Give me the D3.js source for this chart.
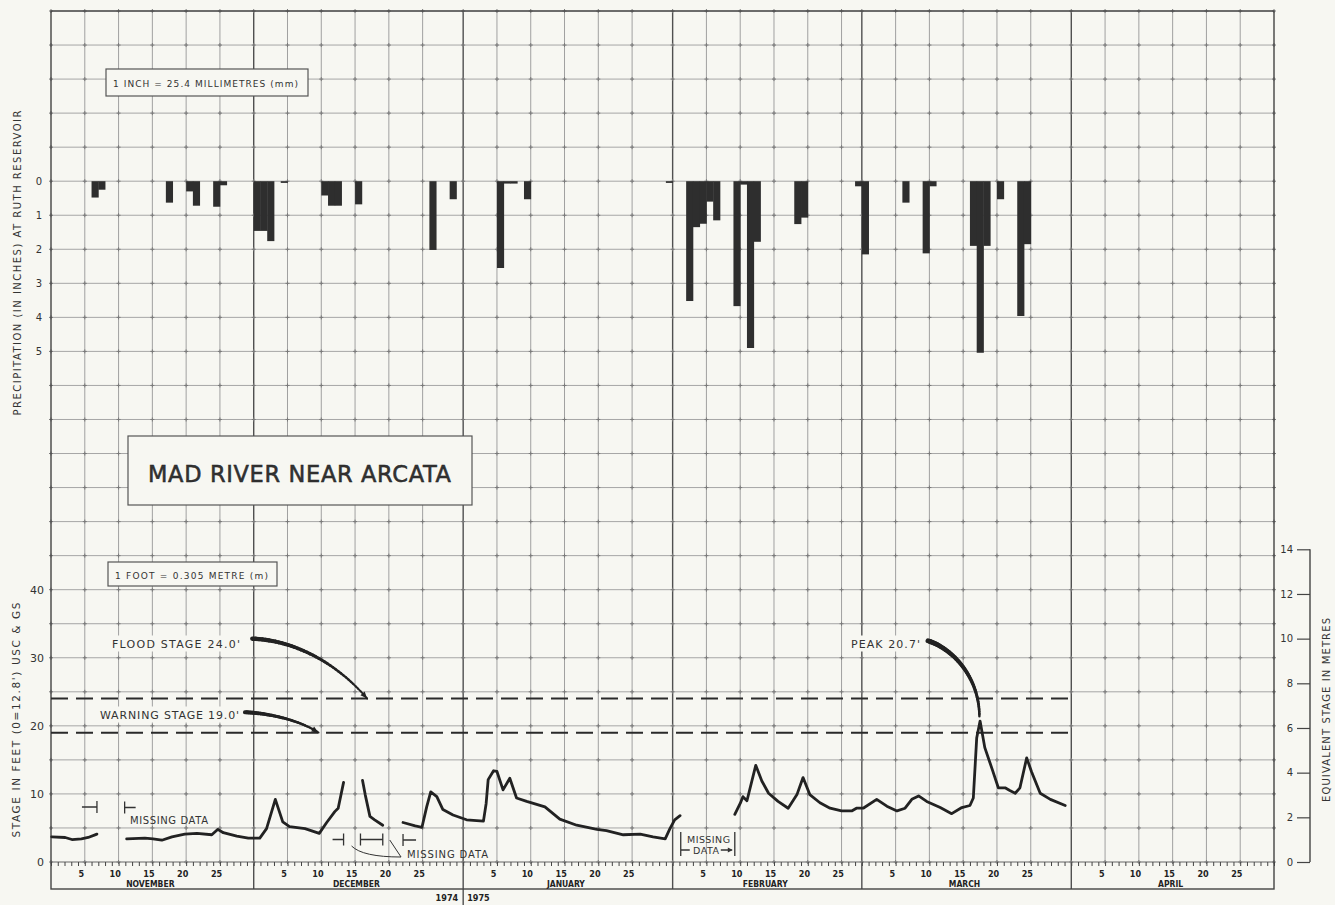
<!DOCTYPE html>
<html>
<head>
<meta charset="utf-8">
<script src="https://d3js.org/d3.v7.min.js"></script>
<title>Mad River near Arcata</title>
<style>
  body { margin: 0; background: #f7f7f2; }
  svg { display: block; }
  text { font-family: "DejaVu Sans", sans-serif; fill: #333; }
  .narrow { font-family: "Liberation Sans Narrow", "DejaVu Sans Condensed", "Arial Narrow", sans-serif; font-weight: bold; fill: #222; }
</style>
</head>
<body>
<svg id="chart"></svg>
<script>
// ---- data ----
const months = ["NOVEMBER", "DECEMBER", "JANUARY", "FEBRUARY", "MARCH", "APRIL"]
const dayLabels = [5, 10, 15, 20, 25]
const precipTicks = [0, 1, 2, 3, 4, 5]
const stageTicks = [0, 10, 20, 30, 40]
const metreTicks = [0, 2, 4, 6, 8, 10, 12, 14]
const floodStage = 24.0
const warningStage = 19.0
const peakStage = 20.7

// daily precipitation at Ruth Reservoir, inches
const precipDays = ["1974-11-07", "1974-11-08", "1974-11-18", "1974-11-21", "1974-11-22", "1974-11-25", "1974-11-26",
  "1974-12-01", "1974-12-02", "1974-12-03", "1974-12-05", "1974-12-11", "1974-12-12", "1974-12-13", "1974-12-16",
  "1974-12-27", "1974-12-30", "1975-01-06", "1975-01-07", "1975-01-08", "1975-01-10", "1975-01-31",
  "1975-02-03", "1975-02-04", "1975-02-05", "1975-02-06", "1975-02-07", "1975-02-10", "1975-02-11", "1975-02-12",
  "1975-02-13", "1975-02-19", "1975-02-20", "1975-02-28", "1975-03-01", "1975-03-07", "1975-03-10", "1975-03-11",
  "1975-03-17", "1975-03-18", "1975-03-19", "1975-03-21", "1975-03-24", "1975-03-25"]
const precipInches = [0.48, 0.25, 0.63, 0.3, 0.72, 0.75, 0.12,
  1.46, 1.46, 1.76, 0.05, 0.42, 0.72, 0.72, 0.68,
  2.02, 0.53, 2.55, 0.07, 0.07, 0.53, 0.05,
  3.52, 1.35, 1.25, 0.6, 1.15, 3.67, 0.1, 4.9,
  1.78, 1.26, 1.07, 0.15, 2.15, 0.63, 2.12, 0.15,
  1.9, 5.04, 1.9, 0.53, 3.96, 1.85]

// stage hydrograph, [days after 1 Nov 1974, feet]; gaps = missing data
const stageNov = [[0.1, 3.7], [2.1, 3.6], [3.1, 3.3], [4.5, 3.4], [5.5, 3.6], [6.8, 4.1]]
const stageNovDec = [[11.2, 3.4], [13.9, 3.5], [15.1, 3.4], [16.4, 3.2], [17.9, 3.7], [19.8, 4.1], [21.6, 4.2],
  [23.8, 4.0], [24.7, 4.8], [25.5, 4.3], [27.5, 3.8], [29.2, 3.5], [30.9, 3.5], [31.9, 4.9], [33.2, 9.2],
  [34.3, 5.9], [35.3, 5.2], [37.6, 4.9], [39.7, 4.2], [40.8, 5.8], [42.0, 7.4], [42.5, 7.9], [43.3, 11.7]]
const stageDecMid = [[46.1, 12.0], [46.5, 9.9], [47.2, 6.7], [47.9, 6.2], [49.1, 5.4]]
const stageDecJan = [[52.1, 5.8], [53.9, 5.3], [54.9, 5.1], [55.6, 8.1], [56.2, 10.3], [57.1, 9.6], [58.0, 7.7],
  [59.5, 6.9], [61.5, 6.2], [64.0, 6.0], [64.4, 8.6], [64.7, 12.1], [65.5, 13.4], [66.0, 13.3], [66.9, 10.6],
  [67.9, 12.3], [68.9, 9.4], [70.4, 8.9], [73.1, 8.1], [75.3, 6.3], [77.8, 5.4], [80.8, 4.8], [82.2, 4.6],
  [84.7, 4.0], [87.2, 4.1], [89.1, 3.7], [90.9, 3.4], [91.6, 4.9], [92.3, 6.2], [93.1, 6.8]]
const stageFebMar = [[101.2, 7.0], [102.0, 8.6], [102.4, 9.6], [103.0, 9.0], [104.3, 14.2], [105.2, 11.9],
  [106.2, 10.1], [107.6, 8.9], [109.1, 7.9], [110.4, 9.9], [111.3, 12.4], [112.3, 9.9], [113.8, 8.7],
  [115.3, 7.9], [117.0, 7.5], [118.5, 7.5], [119.2, 7.9], [120.2, 7.9], [122.2, 9.2], [123.7, 8.2],
  [125.2, 7.5], [126.4, 7.9], [127.4, 9.2], [128.4, 9.7], [129.6, 8.9], [131.6, 8.0], [133.3, 7.1],
  [134.8, 8.0], [136.0, 8.3], [136.5, 9.4], [137.0, 18.2], [137.5, 20.7], [138.2, 16.8], [139.3, 13.6],
  [140.2, 10.9], [141.2, 10.9], [141.9, 10.5], [142.7, 10.1], [143.4, 10.9], [144.4, 15.3], [145.1, 13.3],
  [146.4, 10.1], [147.9, 9.2], [150.1, 8.3]]
const stageSegments = [stageNov, stageNovDec, stageDecMid, stageDecJan, stageFebMar]

// ---- layout ----
const W = 1335, H = 905
const plotLeft = 51, plotRight = 1274, plotTop = 11, zeroY = 862, axisBottom = 889
const bg = "#f7f7f2"

const start = Date.UTC(1974, 10, 1), end = Date.UTC(1975, 4, 1)
const dayDate = d => new Date(start + d * 864e5)

const x = d3.scaleUtc().domain([start, end]).range([plotLeft, plotRight])
const yStage = d3.scaleLinear().domain([0, 125]).range([zeroY, plotTop])
const yPrecip = d3.scaleLinear().domain([0, 5]).range([yStage(100), yStage(75)])
const yMetre = d3.scaleLinear().domain([0, 125 * 0.3048]).range([zeroY, plotTop])
const xd = d => x(dayDate(d))

const svg = d3.select("#chart").attr("width", W).attr("height", H)
svg.append("rect").attr("width", W).attr("height", H).attr("fill", bg)

// ---- grid ----
const monthStarts = d3.utcMonth.range(new Date(start), new Date(end))
const gridDates = []
monthStarts.forEach(ms => dayLabels.forEach(k => gridDates.push(d3.utcDay.offset(ms, k))))
const hLines = d3.range(0, 126, 5)

const grid = svg.append("g")
grid.selectAll("line.h").data(hLines).join("line")
  .attr("x1", plotLeft).attr("x2", plotRight)
  .attr("y1", d => yStage(d)).attr("y2", d => yStage(d))
  .attr("stroke", d => d === 0 ? "#666" : "#a6a6a6").attr("stroke-width", d => d === 0 ? 1.2 : 1)
grid.selectAll("line.v").data(gridDates).join("line")
  .attr("x1", d => x(d)).attr("x2", d => x(d))
  .attr("y1", plotTop).attr("y2", zeroY)
  .attr("stroke", "#a0a0a0").attr("stroke-width", 1)
grid.selectAll("line.m").data(monthStarts.slice(1)).join("line")
  .attr("x1", d => x(d)).attr("x2", d => x(d))
  .attr("y1", plotTop).attr("y2", axisBottom)
  .attr("stroke", "#505050").attr("stroke-width", 1.4)

// little crosses at the grid intersections
let cross = ""
const allX = [plotLeft, ...gridDates.map(x), ...monthStarts.slice(1).map(x), plotRight]
hLines.forEach(v => allX.forEach(px => {
  const py = yStage(v)
  cross += `M${px - 2},${py}h4M${px},${py - 2}v4`
}))
grid.append("path").attr("d", cross).attr("stroke", "#7a7a7a").attr("stroke-width", 1).attr("fill", "none")

svg.append("rect")
  .attr("x", plotLeft).attr("y", plotTop)
  .attr("width", plotRight - plotLeft).attr("height", axisBottom - plotTop)
  .attr("fill", "none").attr("stroke", "#444").attr("stroke-width", 1.4)

// ---- bottom date axis ----
svg.append("g").attr("transform", `translate(0,${zeroY})`)
  .call(d3.axisBottom(x).ticks(d3.utcDay.every(1)).tickSize(4).tickFormat(""))
  .call(g => g.select(".domain").remove())
  .attr("color", "#444")

monthStarts.forEach((ms, i) => {
  dayLabels.forEach(k => {
    const c = new Date(d3.utcDay.offset(ms, k - 1).getTime() + 12 * 36e5)
    svg.append("text").attr("class", "narrow")
      .attr("x", x(c)).attr("y", 877).attr("text-anchor", "middle")
      .attr("font-size", 9).text(k)
  })
  const me = d3.utcMonth.offset(ms, 1)
  svg.append("text").attr("class", "narrow")
    .attr("x", (x(ms) + x(me)) / 2 - 2).attr("y", 887).attr("text-anchor", "middle")
    .attr("font-size", 8.5).text(months[i])
})
const jan1 = x(Date.UTC(1975, 0, 1))
svg.append("line").attr("x1", jan1).attr("x2", jan1).attr("y1", axisBottom).attr("y2", 905)
  .attr("stroke", "#444").attr("stroke-width", 1.3)
svg.append("text").attr("class", "narrow").attr("x", jan1 - 5).attr("y", 901)
  .attr("text-anchor", "end").attr("font-size", 9).text("1974")
svg.append("text").attr("class", "narrow").attr("x", jan1 + 4).attr("y", 901)
  .attr("font-size", 9).text("1975")

// ---- left axes ----
svg.append("g").attr("transform", `translate(${plotLeft - 9},0)`)
  .call(d3.axisLeft(yPrecip).tickValues(precipTicks).tickSize(0).tickPadding(0).tickFormat(d3.format("d")))
  .call(g => g.select(".domain").remove())
  .call(g => g.selectAll("text").attr("font-size", 10).attr("fill", "#444").style("font-family", "DejaVu Sans"))
svg.append("g").attr("transform", `translate(${plotLeft - 7},0)`)
  .call(d3.axisLeft(yStage).tickValues(stageTicks).tickSize(0).tickPadding(0))
  .call(g => g.select(".domain").remove())
  .call(g => g.selectAll("text").attr("font-size", 11).attr("fill", "#444").style("font-family", "DejaVu Sans"))

function vtitle(str, cx, cy, len, size) {
  svg.append("text").attr("transform", `translate(${cx},${cy}) rotate(-90)`)
    .attr("text-anchor", "middle").attr("dy", "0.35em")
    .attr("font-size", size).attr("fill", "#555")
    .attr("textLength", len).attr("lengthAdjust", "spacing").text(str)
}
vtitle("PRECIPITATION (IN INCHES) AT RUTH RESERVOIR", 17, 263, 305, 10)
vtitle("STAGE IN FEET (0=12.8') USC & GS", 16, 720, 235, 10.5)
vtitle("EQUIVALENT STAGE IN METRES", 1326, 710, 184, 10)

// ---- right metre axis ----
const rAxisX = 1310
svg.append("g").attr("transform", `translate(${rAxisX},0)`)
  .call(d3.axisLeft(yMetre).tickValues(metreTicks).tickSize(13).tickPadding(4))
  .call(g => g.select(".domain").remove())
  .call(g => g.selectAll("line").attr("stroke", "#444").attr("stroke-width", 1.2))
  .call(g => g.selectAll("text").attr("font-size", 10).attr("fill", "#444").style("font-family", "DejaVu Sans"))
svg.append("line").attr("x1", rAxisX).attr("x2", rAxisX)
  .attr("y1", yMetre(14)).attr("y2", yMetre(0)).attr("stroke", "#444").attr("stroke-width", 1.4)

// ---- boxes on the grid ----
function box(x0, y0, w, h) {
  svg.append("rect").attr("x", x0).attr("y", y0).attr("width", w).attr("height", h)
    .attr("fill", bg).attr("stroke", "#555").attr("stroke-width", 1.2)
}
box(106, 69, 202, 27)
svg.append("text").attr("x", 113).attr("y", 86.5).attr("font-size", 9).attr("fill", "#444")
  .attr("textLength", 185).attr("lengthAdjust", "spacing").text("1 INCH = 25.4 MILLIMETRES (mm)")
box(108, 562, 169, 24)
svg.append("text").attr("x", 115).attr("y", 578.5).attr("font-size", 9).attr("fill", "#444")
  .attr("textLength", 153).attr("lengthAdjust", "spacing").text("1 FOOT = 0.305 METRE (m)")
box(128, 436, 344, 69)
svg.append("text").attr("x", 148).attr("y", 482).attr("font-size", 22.5).attr("fill", "#222")
  .attr("stroke", "#222").attr("stroke-width", 0.5)
  .attr("textLength", 303).attr("lengthAdjust", "spacing").text("MAD RIVER NEAR ARCATA")

// ---- precipitation bars ----
const parseDay = d3.utcParse("%Y-%m-%d")
const precip = precipDays.map((d, i) => ({ date: parseDay(d), v: precipInches[i] }))
svg.append("g").selectAll("rect").data(precip).join("rect")
  .attr("x", d => x(d.date))
  .attr("width", d => x(d3.utcDay.offset(d.date, 1)) - x(d.date) + 0.4)
  .attr("y", yPrecip(0))
  .attr("height", d => yPrecip(d.v) - yPrecip(0))
  .attr("fill", "#2e2e2e")

// ---- flood / warning stage ----
const apr1 = Date.UTC(1975, 3, 1)
svg.selectAll("line.stage").data([floodStage, warningStage]).join("line")
  .attr("x1", plotLeft).attr("x2", x(apr1))
  .attr("y1", d => yStage(d)).attr("y2", d => yStage(d))
  .attr("stroke", "#2a2a2a").attr("stroke-width", 2).attr("stroke-dasharray", "17,8")

// ---- stage hydrograph ----
const line = d3.line().x(d => xd(d[0])).y(d => yStage(d[1]))
svg.append("g").selectAll("path").data(stageSegments).join("path")
  .attr("d", line).attr("fill", "none").attr("stroke", "#222")
  .attr("stroke-width", 2.8).attr("stroke-linejoin", "round").attr("stroke-linecap", "round")

// ---- annotations ----
function label(str, x0, base, len, size, withBg) {
  if (withBg) {
    svg.append("rect").attr("x", x0 - 4).attr("y", base - size - 1)
      .attr("width", len + 8).attr("height", size + 5).attr("fill", bg)
  }
  svg.append("text").attr("x", x0).attr("y", base).attr("font-size", size).attr("fill", "#3a3a3a")
    .attr("textLength", len).attr("lengthAdjust", "spacing").text(str)
}

function taper(d, w0, w1, head) {
  const p = svg.append("path").attr("d", d).attr("fill", "none")
  const L = p.node().getTotalLength()
  const n = 40
  const pts = d3.range(n + 1).map(i => p.node().getPointAtLength(L * i / n))
  p.remove()
  const g = svg.append("g")
  for (let i = 0; i < n; i++) {
    g.append("line").attr("x1", pts[i].x).attr("y1", pts[i].y).attr("x2", pts[i + 1].x).attr("y2", pts[i + 1].y)
      .attr("stroke", "#222").attr("stroke-linecap", "round").attr("stroke-width", w0 + (w1 - w0) * i / n)
  }
  if (head) {
    const e = pts[n], b = pts[n - 3]
    const a = Math.atan2(e.y - b.y, e.x - b.x)
    const hl = 7, hw = 2.8
    const bx = e.x - hl * Math.cos(a), by = e.y - hl * Math.sin(a)
    g.append("path").attr("fill", "#222")
      .attr("d", `M${e.x},${e.y}L${bx + hw * Math.sin(a)},${by - hw * Math.cos(a)}L${bx - hw * Math.sin(a)},${by + hw * Math.cos(a)}Z`)
  }
}

label("FLOOD STAGE 24.0'", 112, 647.5, 128, 11, true)
label("WARNING STAGE 19.0'", 100, 718.5, 139, 11, true)
label("PEAK 20.7'", 851, 647.5, 69, 11, true)

// flood arrow
let s = [xd(29.8), yStage(32.8)], e = [xd(46.8), yStage(floodStage)]
taper(`M${s[0]},${s[1]}C${s[0] + 33},${s[1] + 1} ${e[0] - 37},${e[1] - 43} ${e[0]},${e[1]}`, 4.5, 1.6, true)
// warning arrow
s = [xd(28.7), yStage(22.0)]; e = [xd(39.6), yStage(warningStage)]
taper(`M${s[0]},${s[1]}C${s[0] + 25},${s[1] + 1} ${e[0] - 18},${e[1] - 12} ${e[0]},${e[1]}`, 4, 1.8, true)
// peak arrow
s = [xd(129.8), yStage(32.5)]; e = [xd(137.4), yStage(peakStage + 0.7)]
taper(`M${s[0]},${s[1]}C${s[0] + 27},${s[1] + 9} ${e[0]},${e[1] - 37} ${e[0]},${e[1]}`, 5, 2.4, false)

// missing-data brackets
const mk = svg.append("g").attr("stroke", "#333").attr("stroke-width", 1.3).attr("fill", "none")
function endMark(dx, y, dir, len) {   // bar at dx, tail going dir (-1 left / +1 right)
  const px = xd(dx)
  mk.append("path").attr("d", `M${px},${y - 6}v12M${px},${y}h${dir * len}`)
}
const nov1End = stageNov[stageNov.length - 1][0], nov2Start = stageNovDec[0][0]
endMark(nov1End, 807, -1, 15)
endMark(nov2Start - 0.3, 807.5, 1, 11)
label("MISSING DATA", 130, 824, 78, 10, false)

const decA = stageNovDec[stageNovDec.length - 1][0]
const decB = stageDecMid[0][0] - 0.3, decC = stageDecMid[stageDecMid.length - 1][0]
const decD = stageDecJan[0][0]
endMark(decA, 839.5, -1, 11)
mk.append("path").attr("d", `M${xd(decB)},${833.5}v12M${xd(decC)},${833.5}v12M${xd(decB)},839.5H${xd(decC)}`)
endMark(decD, 840, 1, 13)
mk.append("path").attr("stroke-width", 1).attr("d", `M${xd(decA) + 8},846Q${xd(decA) + 19},857 ${xd(decD) - 2},857`)
mk.append("path").attr("stroke-width", 1).attr("d", `M${xd(decC) + 7},840L${xd(decD) - 2},857`)
label("MISSING DATA", 407, 857.5, 81, 10, false)

const febA = stageDecJan[stageDecJan.length - 1][0] + 0.1, febB = stageFebMar[0][0]
mk.append("path").attr("d", `M${xd(febA)},832v24M${xd(febB)},832v24M${xd(febA)},850h9M${xd(febB) - 14},850h11`)
mk.append("path").attr("fill", "#333").attr("stroke", "none")
  .attr("d", `M${xd(febB) - 2},850l-5,-2.6v5.2z`)
label("MISSING", 687, 842.5, 43, 9.5, false)
label("DATA", 693, 854, 26, 9.5, false)
</script>
</body>
</html>
